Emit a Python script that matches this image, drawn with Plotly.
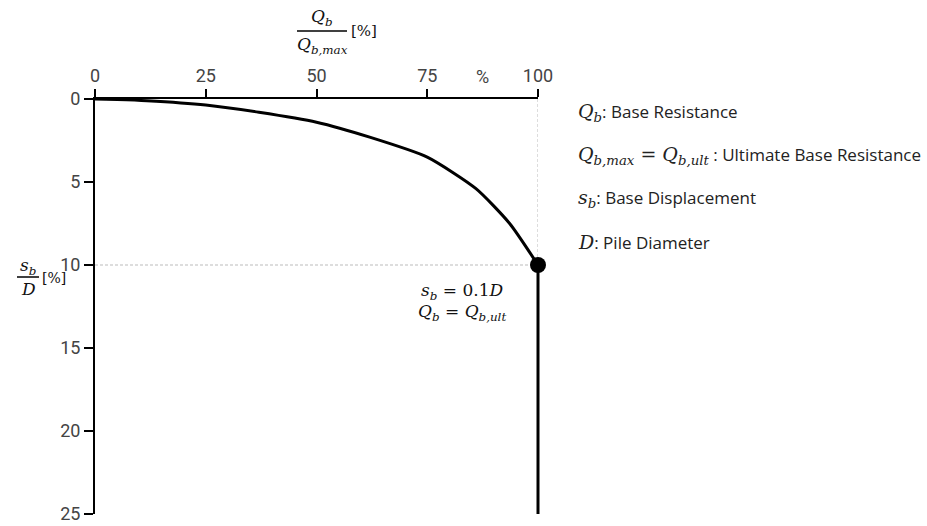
import plotly.graph_objects as go

# Data: normalized base resistance (%) vs normalized base displacement (%)
load_pct = [0, 5, 11.7, 25, 37, 50, 62, 75, 86, 93.6, 100]
settle_pct = [0, 0.03, 0.1, 0.36, 0.8, 1.4, 2.3, 3.5, 5.4, 7.5, 10]
post_ult_x = [100, 100]
post_ult_y = [10, 25]
ult_point_x = [100]
ult_point_y = [10]
x_ticks = [0, 25, 50, 75, 100]
y_ticks = [0, 5, 10, 15, 20, 25]

W, H = 927, 526
X0, X1 = 95, 538      # pixel position of x = 0 and x = 100
Y0, Y1 = 99, 514      # pixel position of y = 0 and y = 25
PAD, PADB = 20, 10    # extra room for unclipped data layer
xs = 100 / (X1 - X0)  # data units per pixel
ys = 25 / (Y1 - Y0)

def px(xp):
    return xp / W

def py(yp):
    return 1 - yp / H

tick_font = dict(family="Roboto, DejaVu Sans, sans-serif", size=18, color="#444444")
math_family = "DejaVu Serif, Liberation Serif, serif"
math_font = dict(family=math_family, size=17, color="#111111")
text_font = dict(family="Open Sans, Noto Sans, sans-serif", size=17, color="#222222")

def m(s, size=19):
    return f'<span style="font-family:{math_family};font-size:{size}px">{s}</span>'

fig = go.Figure()

# guide dashed lines (main axes)
guide = dict(color="#bbbbbb", width=1, dash="3px,2px")
fig.add_trace(go.Scatter(x=[0, ult_point_x[0]], y=[ult_point_y[0], ult_point_y[0]], mode="lines",
                         line=guide, hoverinfo="skip", showlegend=False, xaxis="x", yaxis="y"))
fig.add_trace(go.Scatter(x=[ult_point_x[0], ult_point_x[0]], y=[0, ult_point_y[0]], mode="lines",
                         line=guide, hoverinfo="skip", showlegend=False, xaxis="x", yaxis="y"))

# data layer on a slightly larger, invisible, identically scaled axis pair (so thick lines are not clipped)
fig.add_trace(go.Scatter(x=load_pct, y=settle_pct, mode="lines",
                         line=dict(color="black", width=3, shape="spline", smoothing=0.6),
                         showlegend=False, xaxis="x2", yaxis="y2"))
fig.add_trace(go.Scatter(x=post_ult_x, y=post_ult_y, mode="lines", line=dict(color="black", width=3),
                         showlegend=False, xaxis="x2", yaxis="y2"))
fig.add_trace(go.Scatter(x=ult_point_x, y=ult_point_y, mode="markers", marker=dict(color="black", size=16),
                         showlegend=False, xaxis="x2", yaxis="y2"))

axis_common = dict(ticks="outside", tickwidth=1.5, tickcolor="black", showline=True, linecolor="black",
                   linewidth=2, showgrid=False, zeroline=False, tickfont=tick_font, automargin=False)

fig.update_layout(
    xaxis=dict(domain=[px(X0), px(X1)], range=[0, 100], side="top", tickvals=x_ticks, ticklen=8, anchor="y",
               **axis_common),
    yaxis=dict(domain=[py(Y1), py(Y0)], range=[25, 0], tickvals=y_ticks, ticklen=9, anchor="x",
               ticklabelstandoff=0, **axis_common),
    xaxis2=dict(domain=[px(X0 - PAD), px(X1 + PAD)], range=[-PAD * xs, 100 + PAD * xs], visible=False,
                anchor="y2", fixedrange=True, automargin=False),
    yaxis2=dict(domain=[py(Y1 + PADB), py(Y0 - PAD)], range=[25 + PADB * ys, -PAD * ys], visible=False,
                anchor="x2", fixedrange=True, automargin=False),
)

ann = []
# "%" label on top axis
ann.append(dict(x=87.5, y=1, xref="x", yref="y domain", text="%", showarrow=False, yanchor="bottom", yshift=10,
                font=tick_font))

def A(x, y, text, font, xanchor="center"):
    return dict(x=px(x), y=py(y), xref="paper", yref="paper", text=text, showarrow=False,
                xanchor=xanchor, yanchor="middle", font=font)

# top axis title as fraction
ann.append(A(322, 18, "<i>Q</i><sub><i>b</i></sub>", math_font))
ann.append(A(322, 45, "<i>Q</i><sub><i>b,max</i></sub>", math_font))
ann.append(A(349, 31, "[%]", dict(math_font, size=15), "left"))
# y-axis title
ann.append(A(28, 266, "<i>s</i><sub><i>b</i></sub>", math_font))
ann.append(A(28, 289, "<i>D</i>", math_font))
ann.append(A(40, 278, "[%]", dict(math_font, size=14), "left"))
# point annotation
ann.append(A(462, 291, "<i>s</i><sub><i>b</i></sub> = 0.1<i>D</i>", math_font))
ann.append(A(462, 312, "<i>Q</i><sub><i>b</i></sub> = <i>Q</i><sub><i>b,ult</i></sub>", math_font))

legend_lines = [
    m("<i>Q</i><sub><i>b</i></sub>") + ": Base Resistance",
    m("<i>Q</i><sub><i>b,max</i></sub> = <i>Q</i><sub><i>b,ult</i></sub>") + " : Ultimate Base Resistance",
    m("<i>s</i><sub><i>b</i></sub>") + ": Base Displacement",
    m("<i>D</i>") + ": Pile Diameter",
]
legend_y = [112, 155, 198, 242]
for t, yy in zip(legend_lines, legend_y):
    ann.append(A(576, yy, t, text_font, "left"))

shapes = [
    dict(type="line", xref="paper", yref="paper", x0=px(297), x1=px(347), y0=py(31), y1=py(31),
         line=dict(color="black", width=1.5)),
    dict(type="line", xref="paper", yref="paper", x0=px(17), x1=px(39), y0=py(277), y1=py(277),
         line=dict(color="black", width=1.5)),
]

fig.update_layout(width=W, height=H, margin=dict(l=0, r=0, t=0, b=0, pad=0), paper_bgcolor="white",
                  plot_bgcolor="rgba(0,0,0,0)", annotations=ann, shapes=shapes, showlegend=False)

fig.write_html("out.html")
